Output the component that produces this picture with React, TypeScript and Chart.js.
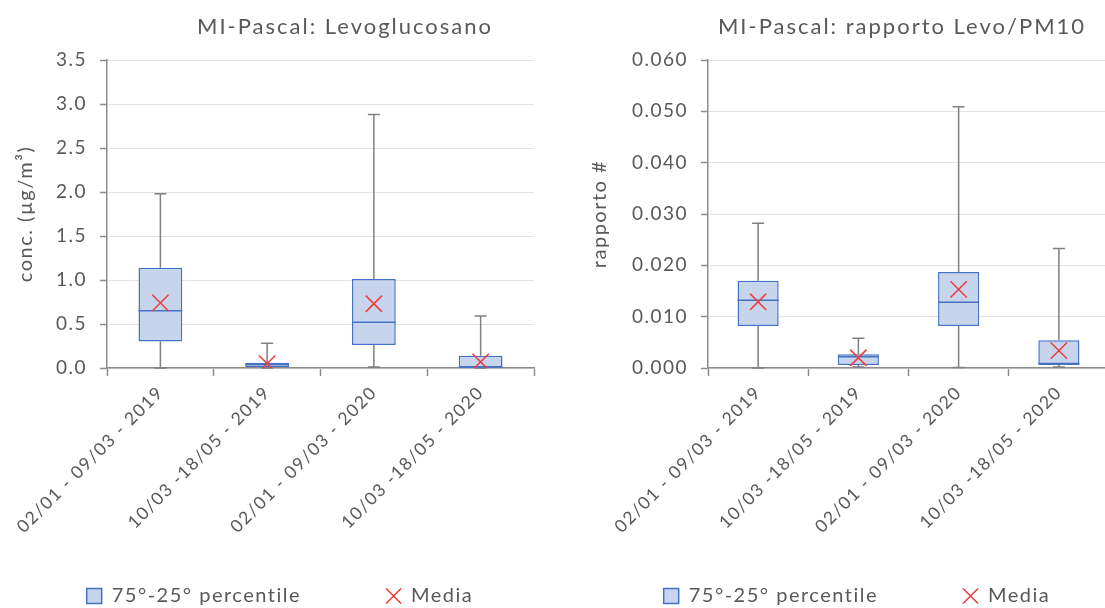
import React, { useEffect, useRef } from "react";
import { Chart, registerables } from "chart.js";

Chart.register(...registerables);

// ---------- data ----------
const categories = [
  "02/01 - 09/03 - 2019",
  "10/03 -18/05 - 2019",
  "02/01 - 09/03 - 2020",
  "10/03 -18/05 - 2020",
];

// Levoglucosano (µg/m³)
const levoMin = [0.0, 0.0, 0.01, 0.0];
const levoQ1 = [0.3, 0.01, 0.26, 0.005];
const levoMedian = [0.65, 0.04, 0.52, 0.01];
const levoQ3 = [1.14, 0.06, 1.01, 0.14];
const levoMax = [1.98, 0.28, 2.88, 0.59];
const levoMean = [0.74, 0.05, 0.73, 0.07];

// Rapporto Levo/PM10
const ratioMin = [0.0, 0.0002, 0.0001, 0.0002];
const ratioQ1 = [0.0082, 0.0006, 0.0082, 0.0006];
const ratioMedian = [0.0132, 0.0022, 0.0128, 0.0009];
const ratioQ3 = [0.017, 0.0027, 0.0187, 0.0054];
const ratioMax = [0.0282, 0.0058, 0.0509, 0.0233];
const ratioMean = [0.0129, 0.002, 0.0153, 0.0034];

const boxLabel = "75°-25° percentile";
const meanLabel = "Media";

// ---------- styles ----------
const FONT = "Lato, 'Open Sans', sans-serif";
const TEXT = "#595959";
const AXIS = "#8c8c8c";
const GRID = "#e3e3e3";
const BOX_FILL = "#c6d4ec";
const BOX_LINE = "#4472c4";
const WHISKER = "#7f7f7f";
const MEAN = "#f03c3c";
const SPACING = "1.5px";

const spacingPlugin = {
  id: "letterSpacing",
  beforeUpdate(chart: any) {
    chart.ctx.letterSpacing = SPACING;
  },
  beforeDraw(chart: any) {
    chart.ctx.letterSpacing = SPACING;
  },
};

const boxPlugin = {
  id: "boxWhiskers",
  beforeDatasetsDraw(chart: any, _args: any, opts: any) {
    const { ctx } = chart;
    const xs = chart.scales.x;
    const ys = chart.scales.y;
    ctx.save();
    ctx.strokeStyle = WHISKER;
    ctx.lineWidth = 1.5;
    opts.min.forEach((mn: number, i: number) => {
      const cx = xs.getPixelForValue(i);
      const yMin = ys.getPixelForValue(mn);
      const yMax = ys.getPixelForValue(opts.max[i]);
      const yQ1 = ys.getPixelForValue(opts.q1[i]);
      const yQ3 = ys.getPixelForValue(opts.q3[i]);
      const c = opts.capWidth / 2;
      ctx.beginPath();
      ctx.moveTo(cx, yMax);
      ctx.lineTo(cx, yQ3);
      ctx.moveTo(cx, yQ1);
      ctx.lineTo(cx, yMin);
      ctx.moveTo(cx - c, yMax);
      ctx.lineTo(cx + c, yMax);
      ctx.moveTo(cx - c, yMin);
      ctx.lineTo(cx + c, yMin);
      ctx.stroke();
    });
    ctx.restore();
  },
  afterDatasetDraw(chart: any, args: any, opts: any) {
    if (args.index !== 0) return;
    const { ctx } = chart;
    const ys = chart.scales.y;
    const meta = chart.getDatasetMeta(0);
    ctx.save();
    ctx.strokeStyle = BOX_LINE;
    ctx.lineWidth = 1.5;
    opts.median.forEach((md: number, i: number) => {
      const el = meta.data[i];
      const y = ys.getPixelForValue(md);
      ctx.beginPath();
      ctx.moveTo(el.x - el.width / 2, y);
      ctx.lineTo(el.x + el.width / 2, y);
      ctx.stroke();
    });
    ctx.restore();
  },
};

const titlePlugin = {
  id: "panelTitle",
  afterDraw(chart: any, _args: any, opts: any) {
    const { ctx } = chart;
    ctx.save();
    ctx.letterSpacing = opts.spacing;
    ctx.font = `${opts.size}px ${FONT}`;
    ctx.fillStyle = TEXT;
    ctx.textAlign = "center";
    ctx.textBaseline = "middle";
    ctx.fillText(opts.text, opts.x, opts.y);
    ctx.restore();
  },
};

type PanelSpec = {
  title: string;
  titleX: number;
  yTitle: string;
  yTitlePad: number;
  yMax: number;
  yStep: number;
  decimals: number;
  padLeft: number;
  yWidth: number;
  rightWidth: number;
  min: number[];
  q1: number[];
  median: number[];
  q3: number[];
  max: number[];
  mean: number[];
};

function makeConfig(p: PanelSpec): any {
  return {
    type: "bar",
    data: {
      labels: categories,
      datasets: [
        {
          type: "bar",
          label: boxLabel,
          data: p.q1.map((v, i) => [v, p.q3[i]]),
          backgroundColor: BOX_FILL,
          borderColor: BOX_LINE,
          borderWidth: 1.5,
          borderSkipped: false,
          barPercentage: 0.41,
          categoryPercentage: 1,
          pointStyle: "rect",
          order: 2,
        },
        {
          type: "line",
          label: meanLabel,
          data: p.mean,
          showLine: false,
          pointStyle: "crossRot",
          pointRadius: 11.5,
          pointBorderWidth: 1.5,
          borderColor: MEAN,
          pointBorderColor: MEAN,
          backgroundColor: "rgba(0,0,0,0)",
          order: 0,
        },
      ],
    },
    options: {
      animation: false,
      responsive: false,
      layout: { padding: { top: 60, left: p.padLeft, right: 0, bottom: 2 } },
      scales: {
        x: {
          grid: {
            drawOnChartArea: false,
            offset: true,
            tickLength: 8,
            tickColor: AXIS,
            tickWidth: 1.5,
          },
          border: { color: AXIS, width: 1.5 },
          ticks: {
            color: TEXT,
            font: { family: FONT, size: 17.5 },
            maxRotation: 45,
            minRotation: 45,
            autoSkip: false,
            padding: 6,
          },
          afterFit: (s: any) => {
            s.height = 188;
          },
        },
        y: {
          min: 0,
          max: p.yMax,
          ticks: {
            stepSize: p.yStep,
            color: TEXT,
            font: { family: FONT, size: 19 },
            padding: 13,
            callback: (v: any) => Number(v).toFixed(p.decimals),
          },
          grid: { color: GRID, lineWidth: 1, tickColor: AXIS, tickLength: 7, tickWidth: 1.5 },
          border: { color: AXIS, width: 1.5 },
          title: {
            display: true,
            text: p.yTitle,
            color: TEXT,
            font: { family: FONT, size: 20 },
            padding: { top: p.yTitlePad, bottom: 0 },
          },
          afterFit: (s: any) => {
            s.width = p.yWidth;
          },
        },
        yPad: {
          type: "linear",
          position: "right",
          display: true,
          grid: { display: false },
          ticks: { display: false },
          border: { display: false },
          afterFit: (s: any) => {
            s.width = p.rightWidth;
          },
        },
      },
      plugins: {
        tooltip: { enabled: false },
        legend: {
          position: "bottom",
          maxHeight: 50,
          labels: {
            usePointStyle: true,
            boxWidth: 15,
            boxHeight: 15,
            padding: 30,
            color: TEXT,
            font: { family: FONT, size: 20 },
            generateLabels: (chart: any) => {
              const ds = chart.data.datasets;
              const item = (i: number) => ({
                text: ds[i].label,
                fillStyle: ds[i].backgroundColor,
                strokeStyle: ds[i].borderColor,
                lineWidth: 1.5,
                pointStyle: ds[i].pointStyle,
                hidden: false,
                datasetIndex: i,
                fontColor: TEXT,
              });
              // blank spacer entry widens the gap between the two entries
              const spacer = {
                text: "",
                fillStyle: "rgba(0,0,0,0)",
                strokeStyle: "rgba(0,0,0,0)",
                lineWidth: 0,
                pointStyle: "line",
                hidden: false,
                fontColor: TEXT,
              };
              return [item(0), spacer, item(1)];
            },
          },
        },
        panelTitle: { text: p.title, x: p.titleX, y: 27, size: 22, spacing: "2px" },
        boxWhiskers: {
          min: p.min,
          q1: p.q1,
          median: p.median,
          q3: p.q3,
          max: p.max,
          capWidth: 12,
        },
      },
    },
    plugins: [spacingPlugin, boxPlugin, titlePlugin],
  };
}

const leftSpec: PanelSpec = {
  title: "MI-Pascal: Levoglucosano",
  titleX: 345,
  yTitle: "conc. (µg/m³)",
  yTitlePad: 14,
  yMax: 3.5,
  yStep: 0.5,
  decimals: 1,
  padLeft: 0,
  yWidth: 107,
  rightWidth: 26,
  min: levoMin,
  q1: levoQ1,
  median: levoMedian,
  q3: levoQ3,
  max: levoMax,
  mean: levoMean,
};

const rightSpec: PanelSpec = {
  title: "MI-Pascal: rapporto Levo/PM10",
  titleX: 342,
  yTitle: "rapporto #",
  yTitlePad: 24,
  yMax: 0.06,
  yStep: 0.01,
  decimals: 3,
  padLeft: 4,
  yWidth: 144,
  rightWidth: 41,
  min: ratioMin,
  q1: ratioQ1,
  median: ratioMedian,
  q3: ratioQ3,
  max: ratioMax,
  mean: ratioMean,
};

function Panel({ left, width, spec }: { left: number; width: number; spec: PanelSpec }) {
  const ref = useRef<HTMLCanvasElement | null>(null);
  useEffect(() => {
    if (!ref.current) return;
    const chart = new Chart(ref.current, makeConfig(spec));
    return () => chart.destroy();
  }, [spec]);
  return (
    <div style={{ position: "absolute", left, top: 0, width, height: 608 }}>
      <canvas ref={ref} width={width} height={608} style={{ display: "block" }} />
    </div>
  );
}

export default function App() {
  return (
    <div
      style={{
        position: "fixed",
        left: 0,
        top: 0,
        width: 1105,
        height: 608,
        overflow: "hidden",
        background: "#ffffff",
      }}
    >
      <Panel left={0} width={560} spec={leftSpec} />
      <Panel left={560} width={590} spec={rightSpec} />
    </div>
  );
}
